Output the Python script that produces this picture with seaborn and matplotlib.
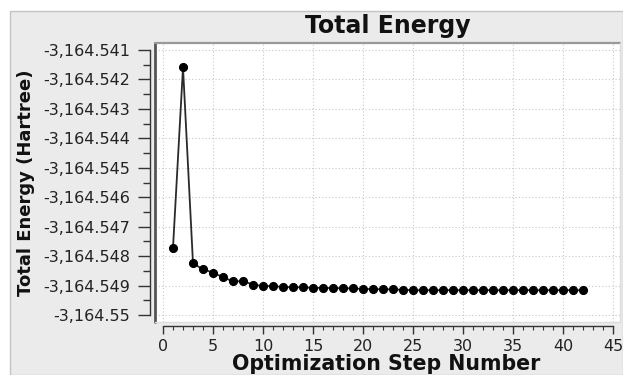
import os
import matplotlib
matplotlib.use("Agg")
import matplotlib.pyplot as plt
import matplotlib.ticker as mticker
from matplotlib import font_manager as fm
from matplotlib.patches import Rectangle
from matplotlib.lines import Line2D
import seaborn as sns
import pandas as pd

# Optimization steps and total energy (Hartree)
steps = list(range(1, 43))
energy = [
    -3164.54772, -3164.54159, -3164.54825, -3164.54845, -3164.54856,
    -3164.54872, -3164.54886, -3164.54885, -3164.54897, -3164.54902,
    -3164.54902, -3164.54905, -3164.54906, -3164.54906, -3164.54908,
    -3164.54908, -3164.54909, -3164.54909, -3164.54910, -3164.54912,
    -3164.54912, -3164.54913, -3164.54913, -3164.54915, -3164.54916,
    -3164.54916, -3164.54916, -3164.54916, -3164.54916, -3164.54916,
    -3164.54916, -3164.54916, -3164.54916, -3164.54916, -3164.54916,
    -3164.54916, -3164.54916, -3164.54916, -3164.54916, -3164.54916,
    -3164.54916, -3164.54916,
]
x_ticks = [0, 5, 10, 15, 20, 25, 30, 35, 40, 45]
y_ticks = [-3164.550, -3164.549, -3164.548, -3164.547, -3164.546,
           -3164.545, -3164.544, -3164.543, -3164.542, -3164.541]

df = pd.DataFrame({"step": steps, "energy": energy})

sns.set_style("white")
plt.rcParams["font.family"] = ["DejaVu Sans"]

# DejaVu files shipped with matplotlib, for the bold labels
ttf_dir = os.path.join(matplotlib.get_data_path(), "fonts", "ttf")
bold = fm.FontProperties(fname=os.path.join(ttf_dir, "DejaVuSans-Bold.ttf"))

W, H = 623, 375
fig = plt.figure(figsize=(W / 100, H / 100), dpi=100)
fig.patch.set_facecolor("white")

# grey panel behind everything
fig.add_artist(Rectangle((10 / W, 0), 1 - 10 / W, 1 - 11 / H, transform=fig.transFigure,
                         facecolor="#ebebeb", edgecolor="#c4c4c4", linewidth=1.0, zorder=-10))

left, right, top, bottom = 155, 620, 43, 322
ax = fig.add_axes([left / W, 1 - bottom / H, (right - left) / W, (bottom - top) / H])
ax.set_facecolor("white")

sns.lineplot(data=df, x="step", y="energy", ax=ax, color="#2a2a2a", linewidth=1.3,
             marker="o", markersize=5.8, markerfacecolor="black", markeredgecolor="black")

ax.set_xlim(-0.8, 45.7)
ax.set_ylim(-3164.55024, -3164.54076)

ax.set_xticks(x_ticks)
ax.xaxis.set_minor_locator(mticker.MultipleLocator(1))
ax.set_yticks(y_ticks)
ax.yaxis.set_minor_locator(mticker.MultipleLocator(0.0005))


def fmt_energy(v, pos):
    return "{:,.3f}".format(v).rstrip("0").rstrip(".")


ax.yaxis.set_major_formatter(mticker.FuncFormatter(fmt_energy))

ax.grid(True, which="major", linestyle=(0, (1, 2)), color="#c8c8c8", linewidth=0.8)

# rulers: spines pushed outward
for side in ["top", "right"]:
    ax.spines[side].set_visible(False)
ax.spines["left"].set_position(("outward", 3.6))
ax.spines["bottom"].set_position(("outward", 2.9))
ax.spines["left"].set_bounds(-3164.550, -3164.541)
ax.spines["bottom"].set_bounds(0, 45)
for side in ["left", "bottom"]:
    ax.spines[side].set_color("#333333")
    ax.spines[side].set_linewidth(1.0)

ax.tick_params(axis="y", which="major", direction="out", length=8.6, width=1.0,
               color="#333333", pad=5.5, left=True, labelsize=11.5, labelcolor="#222222")
ax.tick_params(axis="y", which="minor", direction="out", length=5, width=1.0,
               color="#333333", left=True)
ax.tick_params(axis="x", which="major", direction="out", length=5.8, width=1.0,
               color="#333333", pad=3.5, bottom=True, labelsize=11.5, labelcolor="#222222")
ax.tick_params(axis="x", which="minor", direction="out", length=2.9, width=0.8,
               color="#333333", bottom=True)

ax.set_xlabel("")
ax.set_ylabel("")

# plot area frame
ax.add_line(Line2D([0, 0], [0, 1], transform=ax.transAxes, color="#555555",
                   linewidth=2.0, clip_on=False, zorder=5))
ax.add_line(Line2D([0, 1], [1, 1], transform=ax.transAxes, color="#999999",
                   linewidth=1.6, clip_on=False, zorder=5))
ax.add_line(Line2D([1, 1], [0, 1], transform=ax.transAxes, color="#dddddd",
                   linewidth=1.0, clip_on=False, zorder=5))
ax.add_line(Line2D([0, 1], [0, 0], transform=ax.transAxes, color="#dddddd",
                   linewidth=1.0, clip_on=False, zorder=5))

fig.text(388 / W, 1 - 26 / H, "Total Energy", ha="center", va="center",
         fontproperties=bold, fontsize=17, color="#111111")
fig.text(26 / W, 1 - 183 / H, "Total Energy (Hartree)", ha="center", va="center",
         rotation=90, fontproperties=bold, fontsize=13, color="#111111")
fig.text(386 / W, 1 - 364 / H, "Optimization Step Number", ha="center", va="center",
         fontproperties=bold, fontsize=14.8, color="#111111")

fig.savefig("out.png", dpi=100)
